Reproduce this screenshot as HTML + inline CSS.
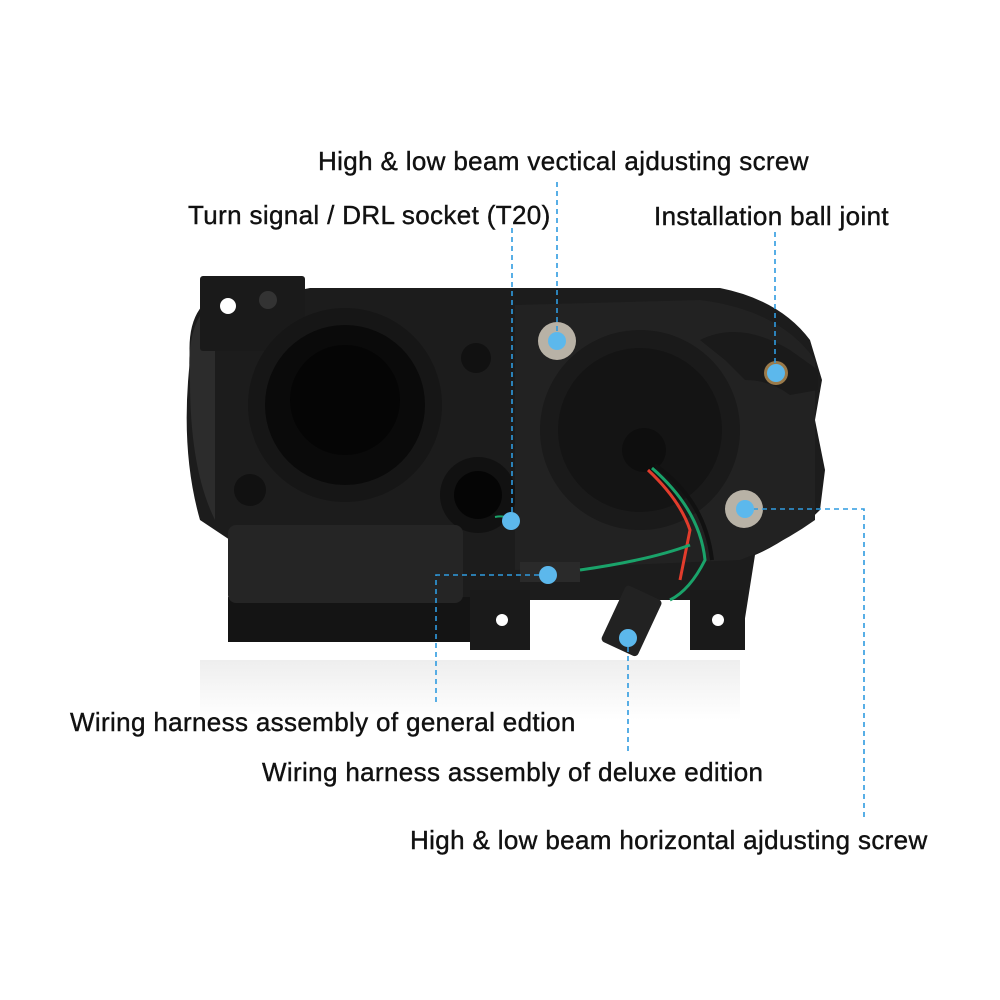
<!DOCTYPE html>
<html><head><meta charset="utf-8"><style>
html,body{margin:0;padding:0;background:#fff}
#c{position:relative;width:1000px;height:1000px;overflow:hidden;font-family:"Liberation Sans",sans-serif}
.t{position:absolute;font-size:26px;letter-spacing:0.35px;color:#111;white-space:nowrap;line-height:1;-webkit-text-stroke:0.4px #111}
</style></head><body><div id="c">
<svg width="1000" height="1000" style="position:absolute;left:0;top:0">
<defs>
<linearGradient id="refl" x1="0" y1="0" x2="0" y2="1"><stop offset="0" stop-color="#ddd"/><stop offset="1" stop-color="#fff"/></linearGradient>
</defs>
<rect x="200" y="660" width="540" height="60" fill="url(#refl)" opacity="0.5"/>
<path d="M190 360 Q185 300 230 290 L300 290 L310 288 L720 288 Q780 300 810 340 L822 380 L815 420 L825 470 L820 510 Q790 540 755 555 L740 650 L700 650 L700 600 L530 600 L530 648 L470 648 L470 620 L255 620 L255 600 L230 600 L230 540 L200 520 Q180 450 190 360Z" fill="#1c1c1c"/>
<path d="M190 380 Q185 320 215 300 L215 520 Q190 470 190 380Z" fill="#2c2c2c"/>
<rect x="200" y="276" width="105" height="75" rx="3" fill="#1a1a1a"/>
<circle cx="228" cy="306" r="8" fill="#fff"/>
<circle cx="268" cy="300" r="9" fill="#333"/>
<circle cx="345" cy="405" r="97" fill="#161616"/>
<circle cx="345" cy="405" r="80" fill="#0a0a0a"/>
<circle cx="345" cy="400" r="55" fill="#050505"/>
<circle cx="250" cy="545" r="18" fill="#222"/>
<circle cx="250" cy="490" r="16" fill="#111"/>
<circle cx="476" cy="358" r="15" fill="#111"/>
<circle cx="478" cy="495" r="38" fill="#111"/>
<circle cx="478" cy="495" r="24" fill="#050505"/>
<rect x="228" y="597" width="250" height="45" fill="#141414"/>
<rect x="228" y="525" width="235" height="78" rx="8" fill="#252525"/>
<rect x="470" y="590" width="60" height="60" fill="#1a1a1a"/>
<circle cx="502" cy="620" r="6" fill="#fff"/>
<rect x="690" y="590" width="55" height="60" fill="#1a1a1a"/>
<circle cx="718" cy="620" r="6" fill="#fff"/>
<path d="M515 305 L700 300 Q780 310 815 360 L815 520 Q780 545 740 560 L515 570Z" fill="#222"/>
<circle cx="640" cy="430" r="100" fill="#1a1a1a"/>
<circle cx="640" cy="430" r="82" fill="#141414"/>
<circle cx="644" cy="450" r="22" fill="#0e0e0e"/>
<path d="M700 340 Q740 320 790 350 L818 370 L818 390 L790 395 Q770 380 745 380 L725 360Z" fill="#1a1a1a"/>
<rect x="520" y="562" width="60" height="20" fill="#2a2a2a"/>
<rect x="612" y="590" width="40" height="62" rx="4" fill="#222" transform="rotate(25 632 620)"/>
<path d="M648 470 Q680 500 690 530 L680 580" stroke="#e23c2c" stroke-width="3" fill="none"/>
<path d="M652 468 Q700 510 705 560 Q690 590 670 600" stroke="#1aa36a" stroke-width="3" fill="none"/>
<path d="M655 465 Q705 500 712 560" stroke="#111" stroke-width="4" fill="none"/>
<path d="M580 570 Q650 560 690 545" stroke="#1aa36a" stroke-width="3" fill="none"/>
<path d="M495 517 Q505 515 512 520" stroke="#1aa36a" stroke-width="2" fill="none"/>
<circle cx="557" cy="341" r="19" fill="#b8b2a6"/>
<circle cx="744" cy="509" r="19" fill="#b8b2a6"/>
<circle cx="776" cy="373" r="12" fill="#9a7a4a"/>
<g stroke="#2f9be0" stroke-width="1.6" stroke-dasharray="5,4" fill="none">
<path d="M557 182 V341"/>
<path d="M512 228 V521"/>
<path d="M775 232 V373"/>
<path d="M548 575 H436 V705"/>
<path d="M628 638 V752"/>
<path d="M744 509 H864 V820"/>
</g>
<g fill="#5cb8ec">
<circle cx="557" cy="341" r="9"/>
<circle cx="511" cy="521" r="9"/>
<circle cx="776" cy="373" r="9"/>
<circle cx="548" cy="575" r="9"/>
<circle cx="628" cy="638" r="9"/>
<circle cx="745" cy="509" r="9"/>
</g>
</svg>
<div class="t" style="left:318px;top:148px">High &amp; low beam vectical ajdusting screw</div>
<div class="t" style="left:188px;top:202px">Turn signal / DRL socket (T20)</div>
<div class="t" style="left:654px;top:203px">Installation ball joint</div>
<div class="t" style="left:70px;top:709px">Wiring harness assembly of general edtion</div>
<div class="t" style="left:262px;top:759px">Wiring harness assembly of deluxe edition</div>
<div class="t" style="left:410px;top:827px">High &amp; low beam horizontal ajdusting screw</div>
</div></body></html>
